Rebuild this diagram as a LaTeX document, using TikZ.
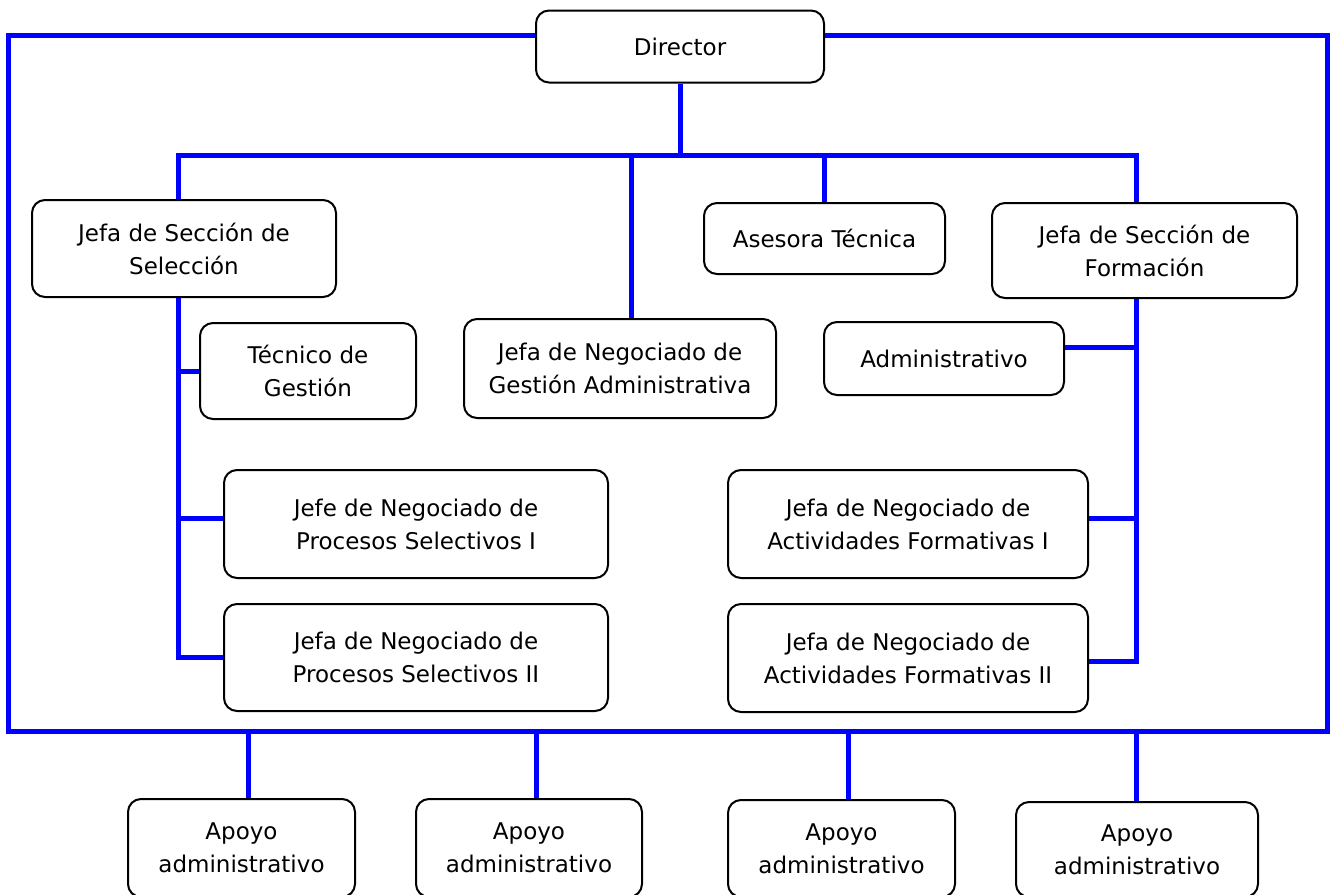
\documentclass[tikz,border=0pt]{standalone}
\usepackage{fontspec}
\setmainfont{DejaVu Sans}
\usetikzlibrary{calc}
\begin{document}
\begin{tikzpicture}[x=1pt,y=-1pt,
  box/.style={draw=black,line width=2pt,rounded corners=13pt,align=center,inner sep=0pt,fill=white,
    font=\fontsize{23}{33}\selectfont},
  bl/.style={draw={rgb,255:red,0;green,0;blue,255},line width=5pt}]
\useasboundingbox (0,0) rectangle (1330,894);
\clip (0,0) rectangle (1330,894);
% boxes
\node[box,minimum width=288pt,minimum height=72pt] (dir) at (680,46.5) {Director};
\node[box,minimum width=304pt,minimum height=97pt] (jss) at (184,248.5) {Jefa de Sección de\\Selección};
\node[box,minimum width=241pt,minimum height=71pt] (ase) at (824.5,238.5) {Asesora Técnica};
\node[box,minimum width=305pt,minimum height=95pt] (jsf) at (1144.5,250.5) {Jefa de Sección de\\Formación};
\node[box,minimum width=216pt,minimum height=96pt] (tg) at (308,371) {Técnico de\\Gestión};
\node[box,minimum width=312pt,minimum height=99pt] (jng) at (620,368.5) {Jefa de Negociado de\\Gestión Administrativa};
\node[box,minimum width=240pt,minimum height=73pt] (adm) at (944,358.5) {Administrativo};
\node[box,minimum width=384pt,minimum height=108pt] (p1) at (416,524) {Jefe de Negociado de\\Procesos Selectivos I};
\node[box,minimum width=384pt,minimum height=107pt] (p2) at (416,657.5) {Jefa de Negociado de\\Procesos Selectivos II};
\node[box,minimum width=360pt,minimum height=108pt] (a1) at (908,524) {Jefa de Negociado de\\Actividades Formativas I};
\node[box,minimum width=360pt,minimum height=108pt] (a2) at (908,658) {Jefa de Negociado de\\Actividades Formativas II};
\node[box,minimum width=227pt,minimum height=98pt] (ap1) at (241.5,848) {Apoyo\\administrativo};
\node[box,minimum width=226pt,minimum height=98pt] (ap2) at (529,848) {Apoyo\\administrativo};
\node[box,minimum width=227pt,minimum height=97pt] (ap3) at (841.5,848.5) {Apoyo\\administrativo};
\node[box,minimum width=242pt,minimum height=95pt] (ap4) at (1137,849.5) {Apoyo\\administrativo};
% coordinates
\coordinate (fTL) at (8,35);
\coordinate (fBR) at (1327,731);
\coordinate (busL) at (178,155);
\coordinate (busR) at (1136,155);
\coordinate (dN) at (631,155);
\coordinate (lv) at (178,0);
\coordinate (rv) at (1136,0);
\coordinate (b1) at (248,731);
\coordinate (b2) at (536,731);
\coordinate (b3) at (848,731);
\coordinate (b4) at (1136,731);
% outer frame
\draw[bl] (dir.west |- fTL) -- (fTL) -- (fTL |- fBR) -- (fBR) -- (fBR |- fTL) -- (dir.east |- fTL);
% director to bus
\draw[bl] (dir.south) -- (dir.south |- busL);
\draw[bl] (busL |- jss.north) -- (busL) -- (busR) -- (busR |- jsf.north);
\draw[bl] (dN) -- (dN |- jng.north);
\draw[bl] (ase.north |- busL) -- (ase.north);
% left column
\draw[bl] (lv |- jss.south) -- (lv |- p2.west) -- (p2.west);
\draw[bl] (lv |- tg.west) -- (tg.west);
\draw[bl] ($(lv |- p1.west)+(0,-6)$) -- ($(p1.west)+(0,-6)$);
% right column
\draw[bl] (rv |- jsf.south) -- ($(rv |- a2.east)+(0,3)$) -- ($(a2.east)+(0,3)$);
\draw[bl] ([yshift=11pt]adm.east) -- ([yshift=11pt]rv |- adm.east);
\draw[bl] ($(rv |- a1.east)+(0,-6)$) -- ($(a1.east)+(0,-6)$);
% bottom drops
\draw[bl] (b1) -- (b1 |- ap1.north);
\draw[bl] (b2) -- (b2 |- ap2.north);
\draw[bl] (b3) -- (b3 |- ap3.north);
\draw[bl] (b4) -- (b4 |- ap4.north);
\end{tikzpicture}
\end{document}
